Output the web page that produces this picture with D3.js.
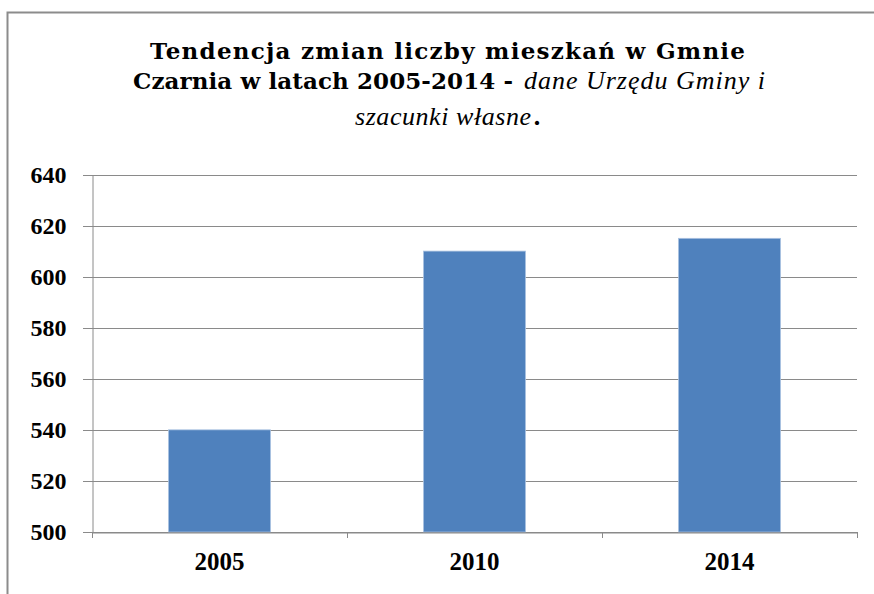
<!DOCTYPE html>
<html>
<head>
<meta charset="utf-8">
<script src="https://cdn.jsdelivr.net/npm/d3@7"></script>
<style>
  body { margin: 0; background: #fff; }
  svg { display: block; }
</style>
</head>
<body>
<div id="chart"></div>
<script>
// data
const years = ["2005", "2010", "2014"];
const residents = [540, 610, 615];
const yTicks = [500, 520, 540, 560, 580, 600, 620, 640];

const width = 874;
const height = 594;
const plot = { left: 92, right: 857, top: 174.5, bottom: 532 };
const boldFont = "DejaVu Serif";
const serif = "Liberation Serif";

const svg = d3.select("#chart")
  .append("svg")
  .attr("width", width)
  .attr("height", height);

// outer chart frame (cut off on right and bottom)
svg.append("rect")
  .attr("x", 7.5).attr("y", 12.5)
  .attr("width", width + 10).attr("height", height + 10)
  .attr("fill", "none")
  .attr("stroke", "#8c8c8c")
  .attr("stroke-width", 2);

// title pieces: text, style, start x, baseline, stretched width
const titleParts = [
  { t: "Tendencja zmian liczby mieszkań w Gmnie", b: true, x: 150, y: 59, w: 595 },
  { t: "Czarnia w latach 2005-2014 -", b: true, x: 133, y: 89, w: 380 },
  { t: "dane Urzędu Gminy i", b: false, x: 524, y: 89, w: 241 },
  { t: "szacunki własne", b: false, x: 355, y: 125, w: 176 },
  { t: ".", b: true, x: 533, y: 125, w: null },
];

svg.append("g")
  .selectAll("text")
  .data(titleParts)
  .join("text")
  .attr("x", d => d.x)
  .attr("y", d => d.y)
  .attr("font-family", d => d.b ? boldFont : serif)
  .attr("font-weight", d => d.b ? "bold" : "normal")
  .attr("font-style", d => d.b ? "normal" : "italic")
  .attr("font-size", d => d.b ? 23 : 26)
  .attr("textLength", d => d.w)
  .attr("lengthAdjust", "spacing")
  .attr("fill", "#000")
  .text(d => d.t);

// scales
const x = d3.scaleBand()
  .domain(years)
  .range([plot.left, plot.right])
  .paddingInner(0.6)
  .paddingOuter(0.3);

const xCat = d3.scaleBand()
  .domain(years)
  .range([plot.left, plot.right]);

const y = d3.scaleLinear()
  .domain([500, 640])
  .range([plot.bottom, plot.top]);

// gridlines
svg.append("g")
  .selectAll("line")
  .data(yTicks)
  .join("line")
  .attr("x1", plot.left - 9)
  .attr("x2", plot.right)
  .attr("y1", d => Math.round(y(d)) + 0.5)
  .attr("y2", d => Math.round(y(d)) + 0.5)
  .attr("stroke", "#8a8a8a")
  .attr("stroke-width", 1);

// y axis
const yAxis = svg.append("g")
  .attr("transform", `translate(${plot.left + 0.5},0)`)
  .call(d3.axisLeft(y).tickValues(yTicks).tickSize(0).tickPadding(26));
yAxis.select(".domain").attr("stroke", "#8a8a8a");
yAxis.selectAll("text")
  .attr("font-size", 24)
  .attr("font-weight", "bold")
  .attr("font-family", serif)
  .attr("fill", "#000");

// bars
svg.append("g")
  .selectAll("rect")
  .data(years.map((yr, i) => ({ yr, v: residents[i] })))
  .join("rect")
  .attr("x", d => x(d.yr))
  .attr("y", d => y(d.v))
  .attr("width", x.bandwidth())
  .attr("height", d => y(500) - y(d.v))
  .attr("fill", "#4f81bd")
  .attr("stroke", "#a9c1e0")
  .attr("stroke-width", 0.8);

// x axis
const xAxis = svg.append("g")
  .attr("transform", `translate(0,${Math.round(y(500)) + 0.5})`)
  .call(d3.axisBottom(xCat).tickSize(0).tickPadding(20));
xAxis.select(".domain").attr("stroke", "#8a8a8a");
xAxis.selectAll("text")
  .attr("font-size", 25)
  .attr("font-weight", "bold")
  .attr("font-family", serif)
  .attr("fill", "#000");

// category boundary ticks
const bounds = years.map(d => xCat(d)).concat([plot.right]);
svg.append("g")
  .selectAll("line")
  .data(bounds)
  .join("line")
  .attr("x1", d => Math.round(d) + 0.5)
  .attr("x2", d => Math.round(d) + 0.5)
  .attr("y1", Math.round(y(500)))
  .attr("y2", Math.round(y(500)) + 6)
  .attr("stroke", "#8a8a8a");
</script>
</body>
</html>
